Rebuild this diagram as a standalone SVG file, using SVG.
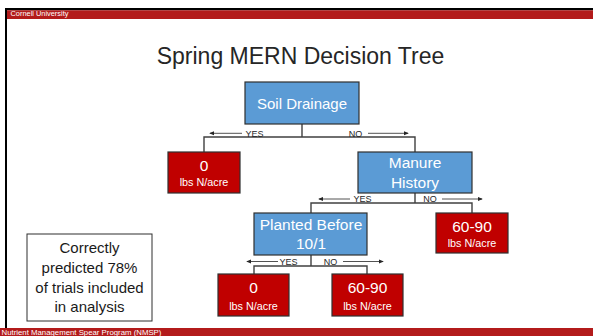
<svg xmlns="http://www.w3.org/2000/svg" width="593" height="336" viewBox="0 0 593 336">
  <style>
    text { font-family: "Liberation Sans", Arial, sans-serif; }
    .band { fill: #B31B1B; }
    .band-text { fill: #FFFFFF; font-size: 7.4px; }
    .title { fill: #262626; font-size: 23px; text-anchor: middle; }
    .blue { fill: #5B9BD5; stroke: #2F2F2F; stroke-width: 1.2; }
    .red { fill: #C00000; stroke: #2F2F2F; stroke-width: 1.2; }
    .note { fill: #FFFFFF; stroke: #2F2F2F; stroke-width: 1; }
    .lbl { fill: #FFFFFF; text-anchor: middle; }
    .q { font-size: 15.5px; }
    .v { font-size: 15.5px; }
    .u { font-size: 10.8px; }
    .note-text { fill: #1A1A1A; font-size: 15px; text-anchor: middle; }
    .tree { fill: none; stroke: #404040; stroke-width: 1.4; }
    .arrow { fill: none; stroke: #262626; stroke-width: 0.8; marker-end: url(#head); }
    .yn { fill: #262626; font-size: 9px; text-anchor: middle; }
  </style>
  <defs>
    <marker id="head" viewBox="0 0 6 6" refX="5" refY="3" markerWidth="5" markerHeight="5" orient="auto" markerUnits="userSpaceOnUse">
      <path d="M0,0.5 L6,3 L0,5.5 Z" fill="#262626"/>
    </marker>
  </defs>

  <!-- slide frame -->
  <rect x="0" y="0" width="593" height="336" fill="#FFFFFF"/>
  <rect x="5" y="8" width="588" height="2.3" fill="#000000"/>
  <rect x="5" y="8" width="2" height="320" fill="#000000"/>
  <rect class="band" x="7" y="10.3" width="586" height="8.7"/>
  <rect class="band" x="0" y="328" width="593" height="8"/>
  <text class="band-text" x="10.5" y="16">Cornell University</text>
  <text class="band-text" x="1.5" y="334.5" style="font-size:7.8px">Nutrient Management Spear Program (NMSP)</text>

  <text class="title" x="300.5" y="64">Spring MERN Decision Tree</text>

  <!-- connectors -->
  <g id="connectors">
    <path class="tree" d="M302,124 V137 M204,152 V137 H415 V152"/>
    <path class="tree" d="M415,193 V203 M311,213 V203 H472 V213"/>
    <path class="tree" d="M311,255 V266 M254,274 V266 H367 V274"/>
    <line class="arrow" x1="242" y1="133.3" x2="210" y2="133.3"/>
    <line class="arrow" x1="368" y1="133.3" x2="408" y2="133.3"/>
    <line class="arrow" x1="350" y1="199" x2="319" y2="199"/>
    <line class="arrow" x1="442" y1="199" x2="482" y2="199"/>
    <line class="arrow" x1="278" y1="261.5" x2="247" y2="261.5"/>
    <line class="arrow" x1="343" y1="261.5" x2="383" y2="261.5"/>
    <text class="yn" x="254.5" y="136.5">YES</text>
    <text class="yn" x="355.5" y="136.5">NO</text>
    <text class="yn" x="362.5" y="202.3">YES</text>
    <text class="yn" x="430" y="202.3">NO</text>
    <text class="yn" x="288.5" y="265">YES</text>
    <text class="yn" x="330.5" y="265">NO</text>
  </g>

  <g id="soil-drainage">
    <rect class="blue" x="245" y="82" width="114" height="42"/>
    <text class="lbl q" x="302" y="109" style="font-size:15px">Soil Drainage</text>
  </g>

  <g id="drained-zero">
    <rect class="red" x="168" y="152" width="72" height="41"/>
    <text class="lbl v" x="204" y="171">0</text>
    <text class="lbl u" x="204" y="186">lbs N/acre</text>
  </g>

  <g id="manure-history">
    <rect class="blue" x="358" y="152" width="114" height="41"/>
    <text class="lbl q" x="415" y="168">Manure</text>
    <text class="lbl q" x="415" y="188">History</text>
  </g>

  <g id="planted-before">
    <rect class="blue" x="254" y="213" width="113" height="42"/>
    <text class="lbl q" x="311" y="230">Planted Before</text>
    <text class="lbl q" x="311" y="249">10/1</text>
  </g>

  <g id="no-manure-rate">
    <rect class="red" x="436" y="213" width="72" height="40"/>
    <text class="lbl v" x="472" y="232">60-90</text>
    <text class="lbl u" x="472" y="247">lbs N/acre</text>
  </g>

  <g id="early-zero">
    <rect class="red" x="218" y="274" width="71" height="42"/>
    <text class="lbl v" x="253.5" y="293">0</text>
    <text class="lbl u" x="253.5" y="310">lbs N/acre</text>
  </g>

  <g id="late-rate">
    <rect class="red" x="332" y="274" width="71" height="42"/>
    <text class="lbl v" x="367.5" y="293">60-90</text>
    <text class="lbl u" x="367.5" y="310">lbs N/acre</text>
  </g>

  <g id="accuracy-note">
    <rect class="note" x="27" y="234" width="125" height="87"/>
    <text class="note-text" x="89.5" y="253">Correctly</text>
    <text class="note-text" x="89.5" y="273">predicted 78%</text>
    <text class="note-text" x="89.5" y="293">of trials included</text>
    <text class="note-text" x="89.5" y="312">in analysis</text>
  </g>
</svg>
